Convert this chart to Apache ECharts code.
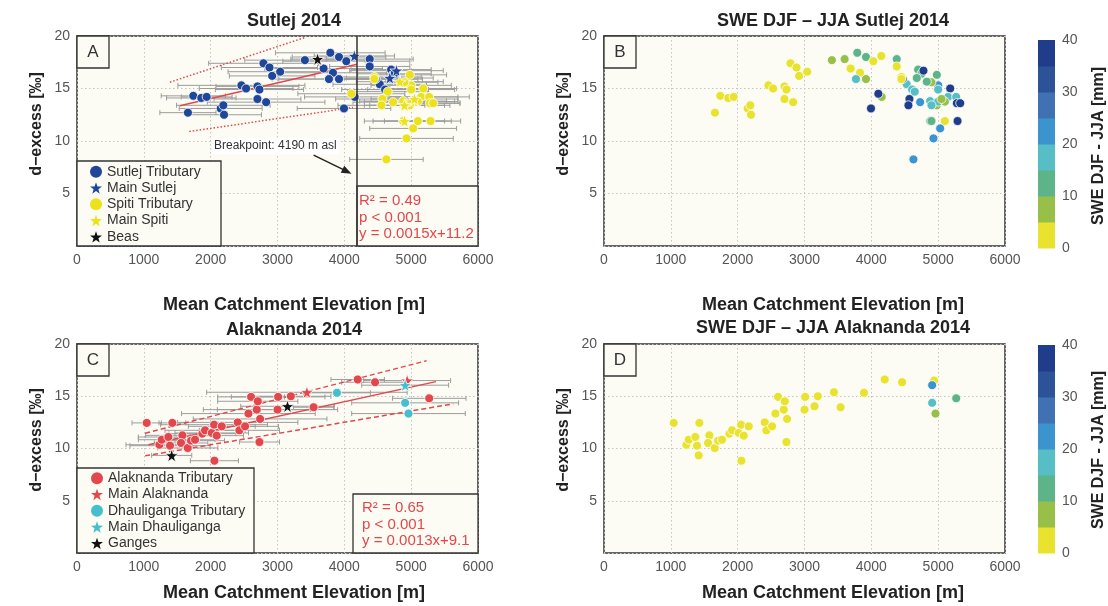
<!DOCTYPE html>
<html>
<head>
<meta charset="utf-8">
<script src="https://cdn.jsdelivr.net/npm/echarts@6/dist/echarts.min.js"></script>
<style>
html, body { margin: 0; padding: 0; background: #fff; }
#chart { width: 1108px; height: 606px; }
</style>
</head>
<body>
<div id="chart"></div>
<script>
// 每个点: [平均流域海拔 m, d-excess ‰, 海拔误差 m, SWE DJF-JJA mm]
const sutlejTrib = [
  [1660, 12.7, 420, 2], [1740, 14.3, 480, 2], [1860, 14.1, 520, 2], [1940, 14.2, 380, 2],
  [2150, 13.1, 620, 2], [2190, 13.4, 700, 2], [2200, 12.5, 560, 2], [2460, 15.3, 950, 2],
  [2530, 15.0, 700, 2], [2700, 15.2, 620, 2], [2730, 14.9, 660, 2], [2700, 14.0, 650, 2],
  [2830, 13.7, 880, 2], [2790, 17.4, 820, 2], [2880, 17.0, 720, 2], [2920, 16.2, 640, 2],
  [3040, 16.6, 780, 2], [3410, 17.7, 900, 8], [3790, 18.4, 820, 12], [3920, 18.0, 700, 12],
  [4030, 17.6, 950, 3], [3690, 16.9, 880, 3], [3830, 16.5, 800, 3], [3770, 15.9, 850, 17],
  [3920, 15.9, 900, 8], [3995, 13.1, 700, 37], [4155, 14.2, 750, 8], [4380, 17.8, 650, 12],
  [4380, 17.1, 600, 3], [4530, 15.4, 700, 17], [4610, 14.9, 650, 17], [4700, 16.8, 600, 12],
  [4750, 16.4, 550, 12], [4470, 15.9, 700, 37]
];
const mainSutlej = [[4150, 18.1, 600, 3], [4780, 16.7, 700, 37], [4680, 16.0, 650, 12]];
const spitiTrib = [
  [4105, 14.5, 800, 37], [4450, 16.1, 700, 3], [4450, 15.9, 650, 3], [4650, 14.7, 600, 17],
  [4570, 14.0, 700, 37], [4555, 13.4, 650, 37], [4730, 13.7, 600, 22], [4980, 16.3, 550, 12],
  [5000, 15.3, 600, 22], [5000, 14.9, 650, 17], [5180, 15.0, 500, 37], [5150, 14.2, 550, 17],
  [5270, 14.2, 600, 17], [5280, 13.6, 450, 37], [5330, 13.6, 400, 37], [4880, 13.8, 650, 17],
  [5100, 13.75, 550, 8], [5100, 11.9, 500, 3], [5290, 11.9, 450, 37], [5030, 11.2, 650, 22],
  [4930, 10.25, 700, 22], [4630, 8.25, 550, 22], [4980, 13.4, 600, 8], [4900, 15.6, 500, 8],
  [4880, 11.9, 450, 12]
];
const mainSpiti = [[4830, 15.65, 650, 12], [5000, 13.75, 700, 17], [4900, 13.4, 600, 17], [4900, 11.9, 600, 12], [5050, 14.0, 650, 8]];
const beas = [[3600, 17.8, 400, 8]];

const alakTrib = [
  [1043, 12.45, 220, 2], [1427, 12.45, 200, 2], [1233, 10.36, 500, 2], [1268, 10.84, 350, 2],
  [1367, 11.1, 450, 2], [1392, 10.27, 600, 2], [1577, 11.26, 550, 2], [1557, 10.53, 400, 2],
  [1657, 10.05, 450, 2], [1707, 10.75, 500, 2], [1766, 10.84, 300, 2], [1876, 11.42, 500, 2],
  [1916, 11.74, 600, 2], [2016, 11.49, 550, 2], [2051, 12.28, 800, 2], [2091, 11.23, 400, 2],
  [2166, 12.12, 500, 2], [2056, 8.83, 360, 2], [2405, 12.5, 900, 2], [2430, 11.74, 600, 2],
  [2515, 12.12, 500, 2], [2605, 14.94, 500, 2], [2565, 13.34, 1000, 2], [2690, 13.72, 800, 2],
  [2705, 14.52, 600, 2], [2740, 12.83, 1000, 2], [2730, 10.62, 300, 2], [3000, 13.72, 900, 2],
  [3010, 14.94, 700, 2], [3200, 15.0, 600, 2], [3540, 13.95, 300, 2], [4200, 16.6, 400, 2],
  [4460, 16.34, 500, 2], [5270, 14.8, 550, 12]
];
const mainAlak = [[3440, 15.38, 1500, 2], [4940, 16.5, 650, 2]];
const dhauliTrib = [[3890, 15.33, 500, 2], [4910, 14.37, 800, 17], [4960, 13.34, 850, 8]];
const mainDhauli = [[4910, 16.06, 650, 22]];
const ganges = [[1417, 9.34, 300, 2], [3150, 14.04, 700, 2]];

// 回归线与置信带端点 [x, y]
const sutlejFit = [[1540, 13.35], [4190, 17.3]];
const sutlejBandHi = [[1390, 15.6], [3430, 19.9]];
const sutlejBandLo = [[1680, 10.9], [4130, 13.2]];
const alakFit = [[1070, 10.35], [5370, 16.4]];
const alakBandHi = [[1020, 11.45], [5230, 18.4]];
const alakBandLo = [[1020, 9.3], [5630, 14.27]];
const breakpoint = 4190;
const arrowFrom = [3540, 8.65];
const arrowTo = [4040, 7.1];

const sutlejStats = ['R\u00b2 = 0.49', 'p < 0.001', 'y = 0.0015x+11.2'];
const alakStats = ['R\u00b2 = 0.65', 'p < 0.001', 'y = 0.0013x+9.1'];

// 色标
const sweBreaks = [0, 5, 10, 15, 20, 25, 30, 35, 40];
const sweColors = ['#e9e22f', '#98bf48', '#5db489', '#57bec5', '#3c94cf', '#4072b3', '#2c5297', '#1f3d8b'];
const sweTicks = [0, 10, 20, 30, 40];

const fam = "'Liberation Sans', Arial, Helvetica, sans-serif";
const STAR = 'path://M0,-10L2.35,-3.24L9.51,-3.09L3.8,1.24L5.88,8.09L0,4L-5.88,8.09L-3.8,1.24L-9.51,-3.09L-2.35,-3.24Z';
const plotBg = '#fcfcf4';
const red = '#e4474b';

const chart = echarts.init(document.getElementById('chart'));

const grids = [
  { left: 77, top: 36, width: 401, height: 210 },
  { left: 604, top: 36, width: 401, height: 210 },
  { left: 77, top: 344, width: 401, height: 209 },
  { left: 604, top: 344, width: 401, height: 209 }
].map(g => Object.assign(g, { show: true, backgroundColor: plotBg, borderColor: '#333', borderWidth: 1.5 }));

const splitStyle = { show: true, lineStyle: { color: '#c4c4c4', type: [1.5, 2.5], width: 1 } };
const xAxes = grids.map((g, i) => ({
  gridIndex: i, type: 'value', min: 0, max: 6000, interval: 1000,
  axisLine: { show: false }, axisTick: { show: false }, splitLine: splitStyle,
  axisLabel: { fontSize: 14, color: '#555', margin: 7, fontFamily: fam, formatter: v => String(v) }
}));
const yAxes = grids.map((g, i) => ({
  gridIndex: i, type: 'value', min: 0, max: 20, interval: 5,
  axisLine: { show: false }, axisTick: { show: false }, splitLine: splitStyle,
  axisLabel: { fontSize: 14, color: '#555', margin: 7, fontFamily: fam, formatter: v => (v === 0 ? '' : String(v)) }
}));

function sweColor(v) {
  for (let i = 0; i < sweColors.length; i++) {
    if (v < sweBreaks[i + 1]) return sweColors[i];
  }
  return sweColors[sweColors.length - 1];
}

function errorBars(gi, rows) {
  return {
    type: 'custom', xAxisIndex: gi, yAxisIndex: gi, silent: true, z: 2, clip: true,
    data: rows.map(d => [d[0], d[1], d[2]]),
    encode: { x: 0, y: 1 },
    renderItem: (params, api) => {
      const x = api.value(0), y = api.value(1), e = api.value(2);
      const a = api.coord([x - e, y]), b = api.coord([x + e, y]);
      const st = { stroke: '#9c9c9c', lineWidth: 1 };
      return {
        type: 'group', children: [
          { type: 'line', shape: { x1: a[0], y1: a[1], x2: b[0], y2: b[1] }, style: st },
          { type: 'line', shape: { x1: a[0], y1: a[1] - 2.5, x2: a[0], y2: a[1] + 2.5 }, style: st },
          { type: 'line', shape: { x1: b[0], y1: b[1] - 2.5, x2: b[0], y2: b[1] + 2.5 }, style: st }
        ]
      };
    }
  };
}

function fitLine(gi, pts, dash) {
  return {
    type: 'line', xAxisIndex: gi, yAxisIndex: gi, data: pts, symbol: 'none', silent: true, z: 3,
    lineStyle: { color: red, width: 1.5, type: dash || 'solid' }
  };
}

function points(gi, name, rows, color, isStar) {
  return {
    name, type: 'scatter', xAxisIndex: gi, yAxisIndex: gi, z: 4,
    data: rows.map(d => [d[0], d[1]]),
    symbol: isStar ? STAR : 'circle', symbolSize: isStar ? 13 : 9,
    itemStyle: { color, borderColor: '#fff', borderWidth: 0.8, opacity: 1 }
  };
}

function swePoints(gi, rows) {
  return {
    type: 'scatter', xAxisIndex: gi, yAxisIndex: gi, z: 4,
    data: rows.map(d => [d[0], d[1], d[3]]),
    symbol: 'circle', symbolSize: 9,
    itemStyle: { color: p => sweColor(p.value[2]), borderColor: '#fff', borderWidth: 0.8, opacity: 1 }
  };
}

const sutlejAll = [].concat(sutlejTrib, mainSutlej, spitiTrib, mainSpiti, beas);
const alakAll = [].concat(alakTrib, mainAlak, dhauliTrib, mainDhauli, ganges);

const blue = '#1f4799', yellow = '#ece21c', cyan = '#46bfcd', black = '#111';

const bpSeries = fitLine(0, sutlejFit);
bpSeries.markLine = {
  silent: true, symbol: 'none', label: { show: false },
  lineStyle: { color: '#333', width: 1.5, type: 'solid' },
  data: [{ xAxis: breakpoint }]
};
const beasSeries = points(0, 'Beas', beas, black, true);
beasSeries.markLine = {
  silent: true, symbol: ['none', 'triangle'], symbolSize: [8, 10], label: { show: false },
  lineStyle: { color: '#222', width: 1.5, type: 'solid' },
  data: [[{ coord: arrowFrom }, { coord: arrowTo }]]
};

const series = [
  errorBars(0, sutlejAll),
  bpSeries,
  fitLine(0, sutlejBandHi, [1.5, 2]),
  fitLine(0, sutlejBandLo, [1.5, 2]),
  points(0, 'Sutlej Tributary', sutlejTrib, blue, false),
  points(0, 'Main Sutlej', mainSutlej, blue, true),
  points(0, 'Spiti Tributary', spitiTrib, yellow, false),
  points(0, 'Main Spiti', mainSpiti, yellow, true),
  beasSeries,
  swePoints(1, sutlejAll),
  errorBars(2, alakAll),
  fitLine(2, alakFit),
  fitLine(2, alakBandHi, [5, 3]),
  fitLine(2, alakBandLo, [5, 3]),
  points(2, 'Alaknanda Tributary', alakTrib, red, false),
  points(2, 'Main Alaknanda', mainAlak, red, true),
  points(2, 'Dhauliganga Tributary', dhauliTrib, cyan, false),
  points(2, 'Main Dhauliganga', mainDhauli, cyan, true),
  points(2, 'Ganges', ganges, black, true),
  swePoints(3, alakAll)
];

const legendBase = {
  orient: 'vertical', itemWidth: 12, itemHeight: 12, itemGap: 0, padding: 0, z: 5,
  selectedMode: false,
  itemStyle: { borderWidth: 0 },
  textStyle: { fontSize: 14, color: '#333', lineHeight: 16.3, fontFamily: fam }
};
const legendItem = (name, star) => ({ name, icon: star ? STAR : 'circle' });
const legends = [
  Object.assign({}, legendBase, {
    left: 90, top: 163.5,
    data: [legendItem('Sutlej Tributary'), legendItem('Main Sutlej', true), legendItem('Spiti Tributary'), legendItem('Main Spiti', true), legendItem('Beas', true)]
  }),
  Object.assign({}, legendBase, {
    left: 91, top: 470,
    data: [legendItem('Alaknanda Tributary'), legendItem('Main Alaknanda', true), legendItem('Dhauliganga Tributary'), legendItem('Main Dhauliganga', true), legendItem('Ganges', true)]
  })
];

// 注释、标题、框与色标
const graphics = [];
function box(x, y, w, h) {
  graphics.push({ type: 'rect', z: 3, shape: { x, y, width: w, height: h }, style: { fill: plotBg, stroke: '#333', lineWidth: 1.3 } });
}
function text(t, x, y, opt) {
  graphics.push(Object.assign({
    type: 'text', z: 6, x, y,
    style: Object.assign({ text: t, font: '14px ' + fam, fill: '#333', textAlign: 'left', textVerticalAlign: 'middle' }, opt && opt.style)
  }, opt && opt.el));
}

[['A', 77, 36], ['B', 604, 36], ['C', 77, 344], ['D', 604, 344]].forEach(([t, x, y]) => {
  box(x, y, 32, 32);
  text(t, x + 16, y + 16, { style: { font: '17px ' + fam, textAlign: 'center', fill: '#333' } });
});
box(77, 161, 144, 85);
box(77, 468, 177, 85);
box(357, 186, 121, 60);
box(353, 494, 125, 59);
sutlejStats.forEach((s, i) => text(s, 359, 201 + i * 16.5, { style: { font: '15px ' + fam, fill: red } }));
alakStats.forEach((s, i) => text(s, 362, 508 + i * 16.5, { style: { font: '15px ' + fam, fill: red } }));
text('Breakpoint: 4190 m asl', 212, 146, { style: { font: '12px ' + fam, fill: '#333', backgroundColor: '#fff', padding: [2, 2] } });

const bold = 'bold 18px ' + fam;
[['Sutlej 2014', 294, 21], ['SWE DJF \u2013 JJA Sutlej 2014', 833, 21], ['Alaknanda 2014', 294, 330], ['SWE DJF \u2013 JJA Alaknanda 2014', 833, 328]]
  .forEach(([t, x, y]) => text(t, x, y, { style: { font: bold, textAlign: 'center', fill: '#222' } }));
[[294, 305], [833, 305], [294, 593], [833, 593]]
  .forEach(([x, y]) => text('Mean Catchment Elevation [m]', x, y, { style: { font: bold, textAlign: 'center', fill: '#222' } }));
[[37, 124], [564, 124], [37, 440], [564, 440]]
  .forEach(([x, y]) => text('d\u2212excess [\u2030]', x, y, { style: { font: 'bold 16px ' + fam, textAlign: 'center', fill: '#222' }, el: { rotation: Math.PI / 2 } }));

function colorbar(top, bottom, titleY) {
  const h = (bottom - top) / sweColors.length;
  sweColors.forEach((c, i) => {
    graphics.push({ type: 'rect', z: 3, shape: { x: 1038, y: bottom - (i + 1) * h, width: 17, height: h + 0.5 }, style: { fill: c } });
  });
  const span = sweBreaks[sweBreaks.length - 1] - sweBreaks[0];
  sweTicks.forEach(v => text(String(v), 1062, bottom - (v - sweBreaks[0]) / span * (bottom - top), { style: { font: '14px ' + fam, fill: '#555' } }));
  text('SWE DJF - JJA [mm]', 1099, titleY, { style: { font: 'bold 16px ' + fam, textAlign: 'center', fill: '#222' }, el: { rotation: Math.PI / 2 } });
}
colorbar(40, 248, 146);
colorbar(345, 553, 450);

chart.setOption({
  animation: false,
  textStyle: { fontFamily: fam },
  grid: grids,
  xAxis: xAxes,
  yAxis: yAxes,
  legend: legends,
  series,
  graphic: graphics
});
</script>
</body>
</html>
